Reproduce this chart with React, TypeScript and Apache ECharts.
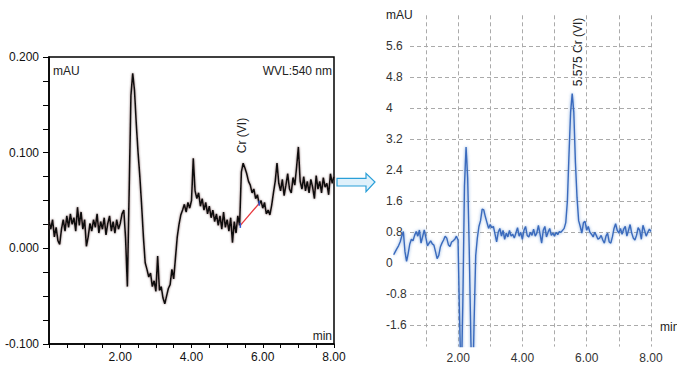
import React, { useEffect, useRef } from "react";
import * as echarts from "echarts";

const STEP = 0.05; // minutes between samples

// Left chromatogram (AU), samples 0.00 .. 8.00 min
const leftValues = [
  0.028, 0.020, 0.030, 0.012, 0.022, 0.008, 0.004, 0.020, 0.030, 0.018, 0.034, 0.022, 0.036, 0.025, 0.032, 0.018, 0.043, 0.024, 0.038, 0.020,
  0.030, 0.002, 0.012, 0.026, 0.018, 0.030, 0.022, 0.036, 0.016, 0.028, 0.020, 0.032, 0.014, 0.026, 0.034, 0.018, 0.028, 0.016, 0.030, 0.020,
  0.026, 0.036, 0.040, 0.010, -0.040, 0.060, 0.160, 0.183, 0.165, 0.130, 0.100, 0.075, 0.045, 0.012, -0.015, -0.022, -0.030, -0.026, -0.040, -0.034,
  -0.045, -0.008, -0.044, -0.040, -0.052, -0.058, -0.050, -0.042, -0.038, -0.022, -0.032, -0.010, 0.012, 0.025, 0.035, 0.040, 0.046, 0.038, 0.048, 0.042,
  0.050, 0.094, 0.060, 0.052, 0.058, 0.044, 0.052, 0.040, 0.048, 0.036, 0.044, 0.032, 0.040, 0.028, 0.036, 0.024, 0.034, 0.020, 0.038, 0.022,
  0.030, 0.018, 0.032, 0.006, 0.028, 0.016, 0.034, 0.024, 0.080, 0.089, 0.084, 0.078, 0.070, 0.066, 0.058, 0.062, 0.052, 0.056, 0.046, 0.050,
  0.042, 0.048, 0.036, 0.040, 0.035, 0.045, 0.058, 0.070, 0.089, 0.068, 0.060, 0.072, 0.055, 0.066, 0.078, 0.062, 0.058, 0.074, 0.066, 0.085,
  0.106, 0.070, 0.062, 0.075, 0.060, 0.070, 0.058, 0.072, 0.064, 0.052, 0.076, 0.062, 0.070, 0.058, 0.074, 0.064, 0.068, 0.056, 0.078, 0.068,
  0.075,
];

// Right chromatogram (mAU), samples 0.00 .. 8.00 min
const rightValues = [
  0.22, 0.30, 0.38, 0.45, 0.55, 0.70, 0.82, 0.30, 0.05, 0.25, 0.50, 0.62, 0.58, 0.72, 0.82, 0.70, 0.86, 0.52, 0.69, 0.86,
  0.66, 0.45, 0.52, 0.58, 0.50, 0.47, 0.30, 0.12, 0.20, 0.42, 0.52, 0.60, 0.70, 0.65, 0.48, 0.43, 0.55, 0.58, 0.62, 0.70,
  0.60, -1.50, -3.20, -1.00, 2.00, 3.00, 2.20, 0.30, -2.00, -3.50, -1.50, 0.20, 0.65, 0.95, 1.10, 1.40, 1.38, 1.20, 1.05, 0.90,
  1.00, 0.92, 0.95, 0.75, 0.55, 0.80, 0.90, 0.70, 0.85, 0.62, 0.78, 0.68, 0.85, 0.70, 0.75, 0.65, 0.78, 0.92, 0.70, 0.80,
  0.62, 0.85, 0.95, 0.72, 0.68, 0.80, 0.72, 0.88, 0.70, 0.78, 0.98, 0.75, 0.52, 0.85, 0.95, 0.68, 0.80, 0.90, 0.72, 0.78,
  0.70, 0.80, 0.74, 0.82, 0.80, 0.85, 0.90, 1.05, 1.60, 2.80, 3.90, 4.38, 3.90, 2.60, 1.70, 1.10, 0.95, 0.78, 1.05, 1.08,
  0.85, 0.95, 0.80, 0.75, 0.68, 0.80, 0.72, 0.62, 0.65, 0.72, 0.60, 0.52, 0.70, 0.78, 0.55, 0.52, 0.68, 0.90, 1.02, 0.85,
  0.78, 0.90, 0.75, 0.88, 0.95, 0.70, 0.85, 1.00, 0.78, 0.65, 0.60, 0.72, 0.92, 0.85, 0.62, 0.98, 0.85, 0.70, 0.80, 0.88,
  0.82,
];

// Integration baseline drawn under the Cr(VI) peak on the left chart [min, AU]
const crBaseline = [
  [5.37, 0.024],
  [5.9, 0.047],
];

const leftXLabels = [2, 4, 6, 8];
const leftYLabels = [-0.1, 0, 0.1, 0.2];
const rightXLabels = [2, 4, 6, 8];
const rightXGrid = [1, 2, 3, 4, 5, 6, 7, 8];
const rightYLabels = [-1.6, -0.8, 0, 0.8, 1.6, 2.4, 3.2, 4, 4.8, 5.6];

const FONT = "'Liberation Sans', Arial, Helvetica, sans-serif";

const near = (v: number, list: number[]) => list.some((x) => Math.abs(x - v) < 1e-6);

export default function App() {
  const ref = useRef<HTMLDivElement>(null);

  useEffect(() => {
    if (!ref.current) return;
    const chart = echarts.init(ref.current, undefined, { renderer: "svg" });

    const leftData = leftValues.map((v, i) => [i * STEP, v]);
    const rightData = rightValues.map((v, i) => [i * STEP, v]);

    const txt = (text: string, x: number, y: number, align: string, extra: any = {}) => ({
      type: "text",
      x,
      y,
      ...extra,
      style: {
        text,
        fill: "#222",
        fontSize: 12,
        fontFamily: FONT,
        align,
        verticalAlign: "middle",
      },
    });

    chart.setOption({
      animation: false,
      textStyle: { fontFamily: FONT },
      grid: [
        { left: 49, top: 57, width: 285, height: 287, show: true, borderColor: "#000", borderWidth: 1.5, backgroundColor: "transparent" },
        { left: 393.7, top: 15.3, width: 257.3, height: 331.3 },
        { left: 410, top: 15.3, width: 241, height: 331.3 },
      ],
      xAxis: [
        {
          gridIndex: 0,
          type: "value",
          min: 0,
          max: 8,
          interval: 0.5,
          axisLine: { show: true, onZero: false, lineStyle: { color: "#000", width: 1.5 } },
          axisTick: { show: true, length: 4, lineStyle: { color: "#000", width: 1 } },
          axisLabel: {
            color: "#111",
            fontSize: 12,
            fontFamily: FONT,
            margin: 7,
            formatter: (v: number) => (near(v, leftXLabels) ? v.toFixed(2) : ""),
          },
          splitLine: { show: false },
        },
        { gridIndex: 1, type: "value", min: 0, max: 8, show: false },
        {
          gridIndex: 2,
          type: "value",
          min: 0.5,
          max: 8,
          axisLine: { show: false, onZero: false },
          axisTick: { show: false, customValues: rightXGrid },
          axisLabel: {
            customValues: rightXLabels,
            color: "#333",
            fontSize: 12,
            fontFamily: FONT,
            margin: 5,
            formatter: (v: number) => v.toFixed(2),
          },
          splitLine: { show: true, lineStyle: { color: "#aaa", type: [4, 3], width: 1 } },
        },
      ],
      yAxis: [
        {
          gridIndex: 0,
          type: "value",
          min: -0.1,
          max: 0.2,
          interval: 0.025,
          axisLine: { show: true, onZero: false, lineStyle: { color: "#000", width: 1.5 } },
          axisTick: { show: true, length: 6, lineStyle: { color: "#000", width: 1 } },
          axisLabel: {
            color: "#111",
            fontSize: 12,
            fontFamily: FONT,
            margin: 10,
            formatter: (v: number) => (near(v, leftYLabels) ? v.toFixed(3) : ""),
          },
          splitLine: { show: false },
        },
        { gridIndex: 1, type: "value", min: -2.15, max: 6.4, show: false },
        {
          gridIndex: 2,
          type: "value",
          min: -2.15,
          max: 6.4,
          axisLine: { show: false, onZero: false },
          axisTick: { show: false, customValues: rightYLabels },
          axisLabel: {
            customValues: rightYLabels,
            align: "left",
            margin: 24,
            color: "#333",
            fontSize: 12,
            fontFamily: FONT,
            formatter: (v: number) => String(Math.round(v * 10) / 10),
          },
          splitLine: { show: true, lineStyle: { color: "#aaa", type: [4, 3], width: 1 } },
        },
      ],
      series: [
        {
          type: "line",
          xAxisIndex: 0,
          yAxisIndex: 0,
          data: leftData,
          showSymbol: false,
          clip: true,
          lineStyle: { color: "#111", width: 1.6, shadowColor: "rgba(120,90,90,0.8)", shadowBlur: 2 },
          z: 3,
        },
        {
          type: "line",
          xAxisIndex: 0,
          yAxisIndex: 0,
          data: crBaseline,
          symbol: "rect",
          symbolSize: [1.5, 5],
          showSymbol: true,
          itemStyle: { color: "#3355cc" },
          lineStyle: { color: "#e8383d", width: 1.3 },
          z: 4,
        },
        {
          type: "line",
          xAxisIndex: 1,
          yAxisIndex: 1,
          data: rightData,
          showSymbol: false,
          clip: true,
          lineStyle: { color: "#3a6bbd", width: 1.4, shadowColor: "rgba(90,140,210,0.8)", shadowBlur: 3 },
          z: 3,
        },
      ],
      graphic: [
        txt("mAU", 53, 71, "left"),
        txt("WVL:540 nm", 332, 71, "right"),
        txt("min", 332, 336, "right"),
        txt("Cr (VI)", 241.7, 135.5, "center", { rotation: Math.PI / 2 }),
        txt("mAU", 386, 15, "left"),
        txt("min", 660, 327, "left"),
        txt("5.575 Cr (VI)", 578, 52, "center", { rotation: Math.PI / 2 }),
        {
          type: "polygon",
          shape: {
            points: [
              [337, 178.3],
              [366, 178.3],
              [366, 173.3],
              [375, 182],
              [366, 191.7],
              [366, 186],
              [337, 186],
            ],
          },
          style: { fill: "#dff1fb", stroke: "#2a9fd8", lineWidth: 1.2 },
        },
      ],
    });

    return () => chart.dispose();
  }, []);

  return (
    <div
      ref={ref}
      style={{ position: "fixed", left: 0, top: 0, width: 677, height: 365, background: "#fff" }}
    />
  );
}
